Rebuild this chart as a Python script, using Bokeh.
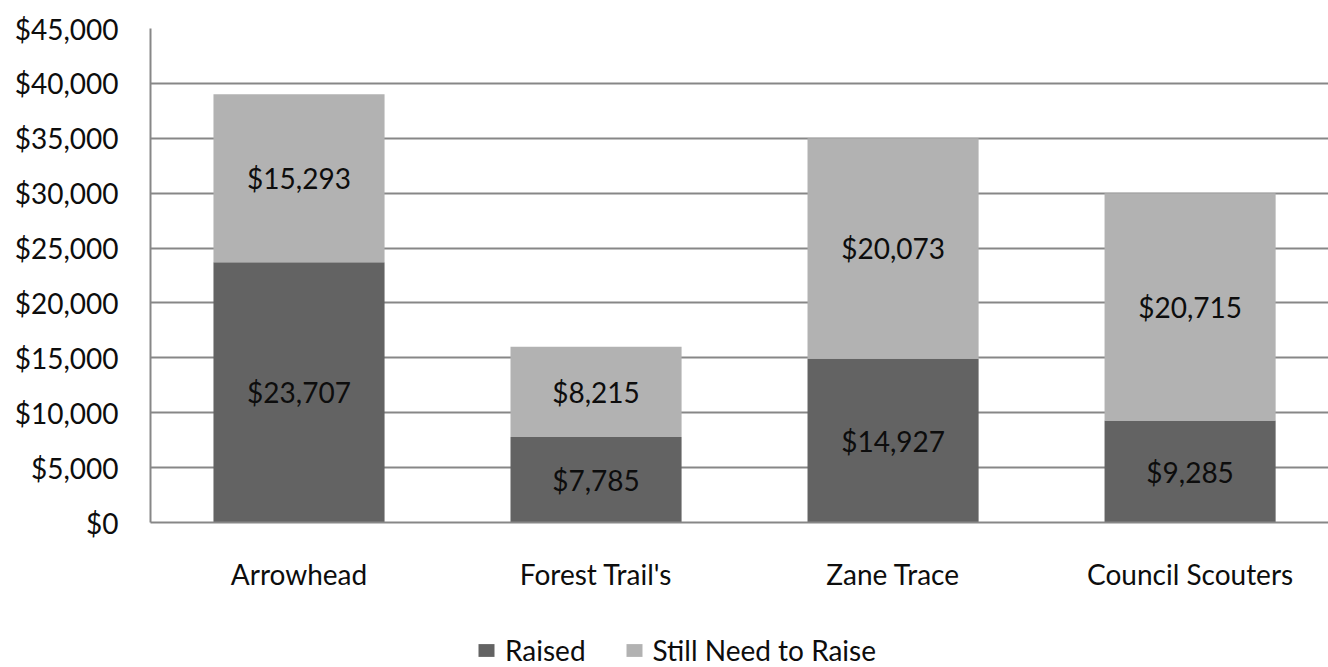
from bokeh.plotting import figure
from bokeh.layouts import column
from bokeh.models import ColumnDataSource, Range1d, FixedTicker, NumeralTickFormatter, Legend, LegendItem
from bokeh.core.properties import value
from bokeh.embed import file_html
from bokeh.resources import INLINE

categories = ["Arrowhead", "Forest Trail's", "Zane Trace", "Council Scouters"]
raised = [23707, 7785, 14927, 9285]
still_need = [15293, 8215, 20073, 20715]
y_ticks = [0, 5000, 10000, 15000, 20000, 25000, 30000, 35000, 40000, 45000]
series_names = ["Raised", "Still Need to Raise"]

FONT = "Lato"
FS = "28px"
DARK = "#636363"
LIGHT = "#b2b2b2"
GRID = "#878787"
TXT = "#0d0d0d"

xs = [i + 0.5 for i in range(len(categories))]

src = ColumnDataSource(dict(
    x=xs, raised=raised, still=still_need,
    mid_r=[r / 2 for r in raised],
    mid_s=[r + s / 2 for r, s in zip(raised, still_need)],
    lab_r=["$" + f"{v:,}" for v in raised],
    lab_s=["$" + f"{v:,}" for v in still_need],
))

p = figure(width=1328, height=609, output_backend="svg", toolbar_location=None,
           x_range=Range1d(0, 3.966), y_range=Range1d(0, 45000),
           min_border_left=150, min_border_right=0, min_border_top=28, min_border_bottom=87)
p.outline_line_color = None

r = p.vbar_stack(["raised", "still"], x="x", width=0.576, source=src,
                 color=[DARK, LIGHT], line_color=None)

p.text(x="x", y="mid_r", text="lab_r", source=src, text_align="center", text_baseline="middle",
       text_font=value(FONT), text_font_size=FS, text_color=TXT)
p.text(x="x", y="mid_s", text="lab_s", source=src, text_align="center", text_baseline="middle",
       text_font=value(FONT), text_font_size=FS, text_color=TXT)

p.xaxis.ticker = FixedTicker(ticks=xs)
p.xaxis.major_label_overrides = {x: c for x, c in zip(xs, categories)}
p.xaxis.major_tick_line_color = None
p.xaxis.minor_tick_line_color = None
p.xaxis.axis_line_color = GRID
p.xaxis.axis_line_width = 2
p.xaxis.major_label_standoff = 28
p.xaxis.major_label_text_font = FONT
p.xaxis.major_label_text_font_size = FS
p.xaxis.major_label_text_color = TXT

p.yaxis.ticker = FixedTicker(ticks=y_ticks)
p.yaxis.formatter = NumeralTickFormatter(format="$0,0")
p.yaxis.major_tick_line_color = None
p.yaxis.minor_tick_line_color = None
p.yaxis.axis_line_color = GRID
p.yaxis.axis_line_width = 2
p.yaxis.major_label_standoff = 26
p.yaxis.major_label_text_font = FONT
p.yaxis.major_label_text_font_size = FS
p.yaxis.major_label_text_color = TXT

p.xgrid.grid_line_color = None
p.ygrid.grid_line_color = GRID
p.ygrid.grid_line_width = 2

# legend strip (swatches are placed outside the visible range; only the legend shows)
lg = figure(width=1328, height=58, output_backend="svg", toolbar_location=None,
            x_range=Range1d(0, 1), y_range=Range1d(0, 1),
            min_border_left=0, min_border_right=0, min_border_top=0, min_border_bottom=0)
lg.axis.visible = False
lg.grid.visible = False
lg.outline_line_color = None
d1 = lg.vbar(x=[-5], top=[-5], bottom=[-6], width=0.5, color=DARK, line_color=None)
d2 = lg.vbar(x=[-5], top=[-5], bottom=[-6], width=0.5, color=LIGHT, line_color=None)
legend = Legend(items=[LegendItem(label=series_names[0], renderers=[d1]),
                       LegendItem(label=series_names[1], renderers=[d2])],
                orientation="horizontal", location=(326, 0))
legend.label_text_font = FONT
legend.label_text_font_size = FS
legend.label_text_color = TXT
legend.label_height = 22
legend.glyph_width = 20
legend.glyph_height = 16
legend.spacing = 38
legend.label_standoff = 9
legend.border_line_color = None
legend.background_fill_alpha = 0
legend.margin = 0
legend.padding = 0
lg.add_layout(legend, "center")

open("out.html", "w").write(file_html(column(p, lg, spacing=0), INLINE))
